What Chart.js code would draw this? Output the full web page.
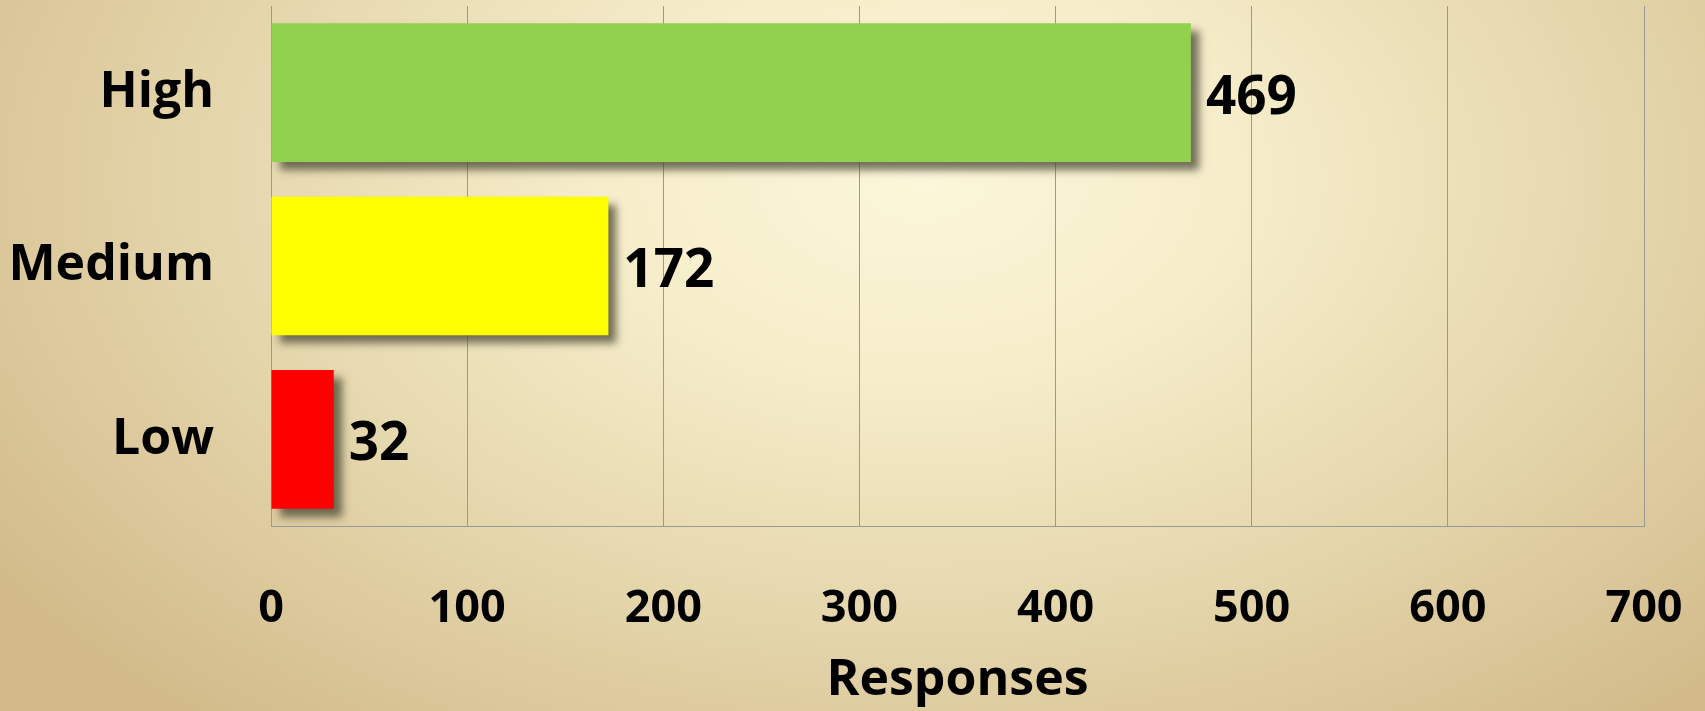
<!DOCTYPE html>
<html>
<head>
<meta charset="utf-8">
<script src="https://cdn.jsdelivr.net/npm/chart.js@4.4.1/dist/chart.umd.min.js"></script>
<style>
  html, body { margin: 0; padding: 0; }
  #wrap {
    width: 1705px; height: 711px; position: relative;
    background: radial-gradient(ellipse 66% 100% at 54% 25%, #fcf7da 0%, #f6edca 28%, #e6d8ae 60%, #d2ba8a 100%);
  }
</style>
</head>
<body>
<div id="wrap"><canvas id="c"></canvas></div>
<script>
const categories = ["High", "Medium", "Low"];
const responses = [469, 172, 32];
const barColors = ["#92d050", "#ffff00", "#ff0000"];
const xTicks = [0, 100, 200, 300, 400, 500, 600, 700];
const xTitle = "Responses";

const FONT = "'Open Sans', 'DejaVu Sans', sans-serif";

const shadowPlugin = {
  id: 'barShadow',
  beforeDatasetsDraw(chart) {
    const ctx = chart.ctx;
    ctx.save();
    ctx.shadowColor = 'rgba(70,68,50,0.75)';
    ctx.shadowBlur = 8;
    ctx.shadowOffsetX = 8;
    ctx.shadowOffsetY = 8;
  },
  afterDatasetsDraw(chart) {
    chart.ctx.restore();
  }
};

const valueLabels = {
  id: 'valueLabels',
  afterDraw(chart) {
    const ctx = chart.ctx;
    const meta = chart.getDatasetMeta(0);
    ctx.save();
    ctx.font = "bold 53px " + FONT;
    ctx.fillStyle = '#000';
    ctx.textAlign = 'left';
    ctx.textBaseline = 'middle';
    meta.data.forEach((bar, i) => {
      ctx.fillText(String(chart.data.datasets[0].data[i]), bar.x + 15, bar.y + 6);
    });
    ctx.restore();
  }
};

new Chart(document.getElementById('c'), {
  type: 'bar',
  data: {
    labels: categories,
    datasets: [{
      data: responses,
      backgroundColor: barColors,
      borderWidth: 0,
      barPercentage: 0.8,
      categoryPercentage: 1.0
    }]
  },
  options: {
    indexAxis: 'y',
    responsive: true,
    maintainAspectRatio: false,
    animation: false,
    layout: { padding: { top: 6, left: 0, right: 61, bottom: 0 } },
    plugins: {
      legend: { display: false },
      tooltip: { enabled: false }
    },
    scales: {
      x: {
        min: 0, max: 700,
        afterBuildTicks(scale) { scale.ticks = xTicks.map(v => ({ value: v })); },
        afterFit(scale) {
          scale.height = 711 - 6 - 520;
          scale.paddingLeft = 0; scale.paddingRight = 0;
          scale.paddingTop = 0; scale.paddingBottom = 0;
        },
        grid: { color: '#999999', lineWidth: 1, drawTicks: false },
        border: { display: true, color: '#999999', width: 1 },
        ticks: {
          color: '#000',
          font: { family: FONT, size: 45, weight: 'bold' },
          padding: 56,
          maxRotation: 0
        },
        title: {
          display: true,
          text: xTitle,
          color: '#000',
          font: { family: FONT, size: 50, weight: 'bold', lineHeight: 1 },
          padding: { top: 0, bottom: 5 }
        }
      },
      y: {
        afterFit(scale) {
          scale.width = 271;
          scale.paddingLeft = 0; scale.paddingRight = 0;
          scale.paddingTop = 0; scale.paddingBottom = 0;
        },
        grid: { display: false, drawTicks: false },
        border: { display: true, color: '#999999', width: 1 },
        ticks: {
          color: '#000',
          font: { family: FONT, size: 50, weight: 'bold' },
          padding: 57
        }
      }
    }
  },
  plugins: [shadowPlugin, valueLabels]
});
</script>
</body>
</html>
